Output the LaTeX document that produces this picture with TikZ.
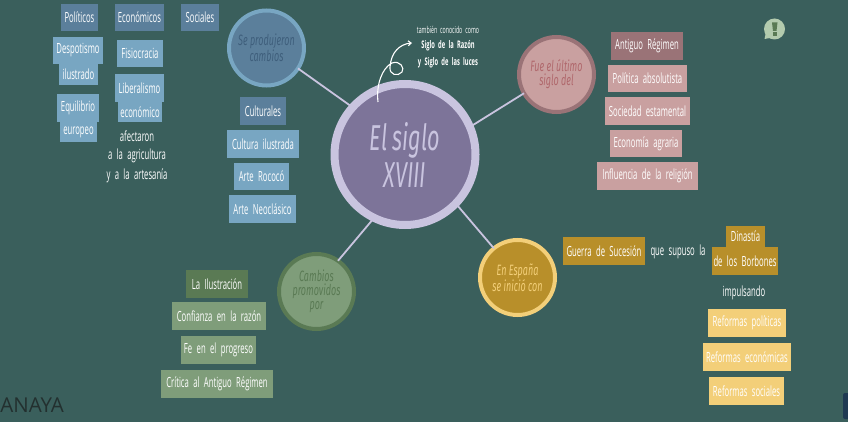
\documentclass[tikz,border=0pt]{standalone}
\usepackage{fontspec}
\setmainfont{Open Sans}
\newfontfamily\handf[FakeStretch=0.55,WordSpace=2.2]{Open Sans}
\newfontfamily\bubf[FakeStretch=0.6]{Fira Sans}
\usetikzlibrary{arrows.meta}
\definecolor{bgc}{HTML}{3A5F5C}
\definecolor{mainf}{HTML}{7D7499}\definecolor{maind}{HTML}{C9C4DF}
\definecolor{bluef}{HTML}{5B7F9B}\definecolor{blued}{HTML}{78A6C2}\definecolor{bluet}{HTML}{3F5F7C}
\definecolor{pinkf}{HTML}{C9A0A0}\definecolor{pinkd}{HTML}{9A7377}\definecolor{pinkt}{HTML}{B0686C}
\definecolor{goldf}{HTML}{B88F2A}\definecolor{goldd}{HTML}{F3CF79}
\definecolor{grnf}{HTML}{7F9D7A}\definecolor{grnd}{HTML}{5A7A54}
\definecolor{icof}{HTML}{B3CBAE}\definecolor{tabc}{HTML}{1F3A52}\definecolor{logoc}{HTML}{23302F}
\tikzset{
 box/.style={inner sep=0pt,outer sep=0pt,text=white,font=\handf\fontsize{14}{15}\selectfont,align=center},
 free/.style={inner sep=0pt,outer sep=0pt,text=white,font=\handf\fontsize{14}{15}\selectfont,align=center},
 small/.style={free,font=\handf\fontsize{9.5}{11}\selectfont},
 strong/.style={free,font=\handf\bfseries\fontsize{10.5}{11}\selectfont},
 bubble/.style={circle,inner sep=0pt,outer sep=0pt,minimum size=#1,align=center,font=\bubf\itshape\fontsize{15}{14}\selectfont},
 link/.style={draw=maind,line width=1.8pt}
}
\newcommand{\bx}[7]{%
 \pgfmathsetmacro{\cxx}{(#2+#4)/2}\pgfmathsetmacro{\cyy}{(#3+#5)/2}%
 \pgfmathsetmacro{\www}{#4-#2}\pgfmathsetmacro{\hhh}{#5-#3}%
 \node[box,fill=#6,minimum width=\www pt,minimum height=\hhh pt] (#1) at (\cxx,\cyy) {#7};}
\begin{document}
\begin{tikzpicture}[x=1pt,y=-1pt]
\useasboundingbox (0,0) rectangle (848,422);
\fill[bgc] (0,0) rectangle (848,422);
% bubbles
\node[bubble=141pt,fill=mainf,draw=maind,line width=8pt,text=maind,font=\bubf\itshape\fontsize{36}{37}\selectfont] (main) at (405,154.5) {El siglo\\XVIII};
\node[bubble=75pt,fill=bluef,draw=blued,line width=4pt,text=bluet] (se) at (266.5,48) {Se produjeron\\cambios};
\node[bubble=75pt,fill=pinkf,draw=pinkd,line width=4pt,text=pinkt] (fue) at (556.5,74.5) {Fue el último\\siglo del};
\node[bubble=75pt,fill=goldf,draw=goldd,line width=4pt,text=goldd] (esp) at (517.5,277.5) {En España\\se inició con};
\node[bubble=75pt,fill=grnf,draw=grnd,line width=4pt,text=grnd] (cam) at (316.5,291.5) {Cambios\\promovidos\\por};
% connectors
\draw[link] (main.138.5) -- (se.-33);
\draw[link] (main.23.8) -- (fue.210.5);
\draw[link] (main.-44.7) -- (esp.129);
\draw[link] (main.244.8) -- (cam.55);
% blue
\bx{pol}{61}{4}{98}{31}{bluef}{Políticos}
\bx{eco}{115}{4}{164}{31}{bluef}{Económicos}
\bx{soc}{181}{4}{219}{31}{bluef}{Sociales}
\bx{desa}{53}{37}{103}{64}{blued}{Despotismo}
\bx{desb}{59}{64}{98}{85}{blued}{ilustrado}
\bx{fis}{117}{40}{163}{67}{blued}{Fisiocracia}
\bx{liba}{115}{74}{164}{102}{blued}{Liberalismo}
\bx{libb}{118}{102}{162}{122}{blued}{económico}
\bx{equa}{57}{94}{99}{122}{blued}{Equilibrio}
\bx{equb}{60}{122}{97}{142}{blued}{europeo}
\node[free] (afe) at (137,136) {afectaron};
\node[free] (agr) at (137,156) {a la agricultura};
\node[free] (art) at (137,176) {y a la artesanía};
\bx{cul}{240}{97}{286}{125}{bluef}{Culturales}
\bx{cil}{227}{130}{299}{158}{blued}{Cultura ilustrada}
\bx{roc}{234}{163}{289}{190}{blued}{Arte Rococó}
\bx{neo}{229}{195}{296}{223}{blued}{Arte Neoclásico}
% pink
\bx{ant}{611}{32}{683}{60}{pinkd}{Antiguo Régimen}
\bx{pab}{608}{65}{687}{92}{pinkf}{Política absolutista}
\bx{ses}{605}{97}{690}{125}{pinkf}{Sociedad estamental}
\bx{eag}{610}{130}{682}{157}{pinkf}{Economía agraria}
\bx{inf}{597}{162}{698}{190}{pinkf}{Influencia de la religión}
% gold
\bx{gue}{563}{237}{645}{265}{goldf}{Guerra de Sucesión}
\node[free] (que) at (678,252) {que supuso la};
\bx{dina}{726}{226}{765}{247}{goldf}{Dinastía}
\bx{dinb}{712}{247}{778}{275}{goldf}{de los Borbones}
\node[free] (imp) at (744,293) {impulsando};
\bx{rpo}{708}{309}{786}{337}{goldd}{Reformas políticas}
\bx{rec}{703}{343}{791}{371}{goldd}{Reformas económicas}
\bx{rso}{709}{377}{784}{405}{goldd}{Reformas sociales}
% green
\bx{ilu}{186}{270}{248}{298}{grnd}{La Ilustración}
\bx{con}{172}{302}{266}{330}{grnf}{Confianza en la razón}
\bx{fep}{181}{336}{256}{364}{grnf}{Fe en el progreso}
\bx{cri}{161}{370}{273}{398}{grnf}{Crítica al Antiguo Régimen}
% note
\node[small] (tam) at (448,30) {también conocido como};
\node[strong] (raz) at (448,46) {Siglo de la Razón};
\node[strong] (luc) at (448,63) {y Siglo de las luces};
\coordinate (cs) at (378,102);
\coordinate (ce) at (412,43);
\draw[white,line width=1.1pt,-{Straight Barb[length=3pt,width=5pt]}] (cs) .. controls (376,85) and (382,68) .. (392,63)
 .. controls (400,60) and (405,68) .. (402,72) .. controls (398,77) and (389,75) .. (390,67) .. controls (391,52) and (400,44) .. (ce);
% icon
\fill[icof] (764.5,39) -- (766,32) -- (770,38) -- cycle;
\node[circle,fill=icof,minimum size=21pt,inner sep=0pt,outer sep=0pt] (ico) at (774.5,29) {};
\fill[grnd] (772,22.5) -- (777.5,22.5) -- (776.5,31) -- (773,31) -- cycle;
\fill[grnd] (772.5,32.5) rectangle (776.5,36);
% logo
\node[inner sep=0pt,anchor=east,text=logoc,font=\fontsize{20.5}{21}\selectfont] (logo) at (64,405.5) {ANAYA};
% corner tab
\fill[tabc,rounded corners=2pt] (843,393) rectangle (852,419);
\end{tikzpicture}
\end{document}
